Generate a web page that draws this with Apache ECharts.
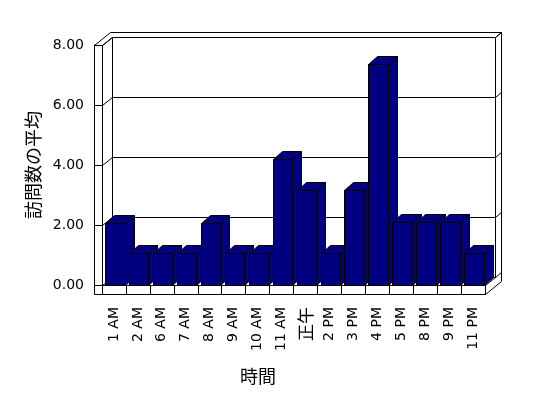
<!DOCTYPE html>
<html lang="ja">
<head>
<meta charset="UTF-8">
<title>訪問数の平均</title>
<script src="https://cdn.jsdelivr.net/npm/echarts@6/dist/echarts.min.js"></script>
</head>
<body style="margin: 0; background: #fff">
<div id="container" style="width: 548px; height: 398px"></div>
<script type="text/javascript">
    var hours = ['1 AM', '2 AM', '6 AM', '7 AM', '8 AM', '9 AM', '10 AM', '11 AM', '正午',
        '2 PM', '3 PM', '4 PM', '5 PM', '8 PM', '9 PM', '11 PM'];
    var visitAvg = [2.08, 1.06, 1.06, 1.06, 2.08, 1.06, 1.06, 4.2, 3.17,
        1.06, 3.17, 7.37, 2.09, 2.09, 2.09, 1.06];
    var yTicks = [0, 2, 4, 6, 8];

    var FONT = "'DejaVu Sans', 'Noto Sans CJK JP', sans-serif";
    var CJK = "'Noto Sans CJK JP', sans-serif";
    // 3D box look (Excel style)
    var WALL = 8;              // side wall thickness
    var DX = 10, DY = 8;       // depth of the floor / inner face of back wall
    var OX = 16, OY = 13;      // outer edge of back wall
    var FLOOR = 9;             // floor slab thickness
    var BAR_DX = 9, BAR_DY = 8;

    function px(v) {
        return Math.round(v) + 0.5;
    }
    function pt(x, y) {
        return [px(x), px(y)];
    }
    function line(a, b) {
        return {type: 'line', shape: {x1: a[0], y1: a[1], x2: b[0], y2: b[1]},
            style: {stroke: '#000', lineWidth: 1}};
    }

    function renderWalls(params, api) {
        var r = params.coordSys;
        var x0 = r.x, x1 = r.x + r.width, yT = r.y, yB = r.y + r.height;
        var items = [];
        // outline of the whole box
        items.push({type: 'polygon', shape: {points: [
            pt(x0 - WALL, yT), pt(x0 - WALL + OX, yT - OY), pt(x1 + OX, yT - OY),
            pt(x1 + OX, yB + FLOOR - OY), pt(x1, yB + FLOOR), pt(x0 - WALL, yB + FLOOR)
        ]}, style: {fill: '#fff', stroke: '#000', lineWidth: 1}});
        // back wall inner face
        items.push({type: 'polygon', shape: {points: [
            pt(x0 + DX, yT - DY), pt(x1 + DX, yT - DY), pt(x1 + DX, yB - DY), pt(x0 + DX, yB - DY)
        ]}, style: {fill: '#fff', stroke: '#000', lineWidth: 1}});
        items.push(line(pt(x1 + DX, yT - DY), pt(x1 + OX, yT - OY)));
        // side wall
        items.push(line(pt(x0, yT), pt(x0, yB + FLOOR)));
        items.push(line(pt(x0 - WALL, yT), pt(x0, yT)));
        items.push(line(pt(x0, yT), pt(x0 + DX, yT - DY)));
        // floor
        items.push(line(pt(x1, yB), pt(x1, yB + FLOOR)));
        items.push(line(pt(x1, yB), pt(x1 + DX, yB - DY)));
        items.push(line(pt(x0, yB + FLOOR), pt(x1, yB + FLOOR)));
        // gridlines on side and back walls
        yTicks.forEach(function (v) {
            var y = api.coord([0, v])[1];
            items.push(line(pt(x0, y), pt(x0 + DX, y - DY)));
            items.push(line(pt(x0 + DX, y - DY), pt(x1 + DX, y - DY)));
            items.push(line(pt(x1 + DX, y - DY), pt(x1 + OX, y - OY)));
        });
        return {type: 'group', children: items};
    }

    function renderBar(params, api) {
        var base = api.coord([api.value(0), 0]);
        var top = api.coord([api.value(0), api.value(1)]);
        var band = api.size([1, 0])[0];
        var xl = px(base[0] - band / 2 + band * 0.13);
        var xr = px(base[0] - band / 2 + band * 0.94);
        var yt = px(top[1]), yb = px(base[1]);
        var style = {fill: '#000080', stroke: '#000', lineWidth: 1};
        return {type: 'group', children: [
            {type: 'polygon', shape: {points: [[xr, yt], [xr + BAR_DX, yt - BAR_DY],
                [xr + BAR_DX, yb - BAR_DY], [xr, yb]]}, style: style},
            {type: 'polygon', shape: {points: [[xl, yt], [xr, yt],
                [xr + BAR_DX, yt - BAR_DY], [xl + BAR_DX, yt - BAR_DY]]}, style: style},
            {type: 'polygon', shape: {points: [[xl, yt], [xr, yt], [xr, yb], [xl, yb]]}, style: style}
        ]};
    }

    var dom = document.getElementById('container');
    var myChart = echarts.init(dom);

    var option = {
        backgroundColor: '#fff',
        animation: false,
        textStyle: {fontFamily: FONT},
        grid: {left: 102, right: 63, top: 45, bottom: 113, outerBoundsMode: 'none'},
        xAxis: {
            type: 'category',
            data: hours,
            z: 5,
            name: '時間',
            nameLocation: 'middle',
            nameGap: 82,
            nameTextStyle: {color: '#000', fontSize: 18, fontFamily: CJK, padding: [0, 71, 0, 0]},
            axisLine: {lineStyle: {color: '#000', width: 1}},
            axisTick: {show: true, length: FLOOR, alignWithLabel: false, lineStyle: {color: '#000'}},
            axisLabel: {
                rotate: 90, margin: 22, color: '#000', fontSize: 14, fontFamily: FONT, interval: 0,
                formatter: function (v) {
                    return /[^\x00-\x7f]/.test(v) ? '{cjk|' + v + '}' : v;
                },
                rich: {cjk: {fontSize: 17, fontFamily: CJK, color: '#000'}}
            }
        },
        yAxis: {
            type: 'value',
            min: 0,
            max: 8,
            interval: 2,
            offset: WALL,
            z: 5,
            name: '訪問数の平均',
            nameLocation: 'middle',
            nameRotate: 90,
            nameGap: 49,
            nameTextStyle: {color: '#000', fontSize: 18, fontFamily: CJK, padding: [8, 0, 0, 0]},
            axisLine: {show: true, lineStyle: {color: '#000', width: 1}},
            axisTick: {show: true, inside: true, length: WALL, lineStyle: {color: '#000'}},
            axisLabel: {margin: 10, color: '#000', fontSize: 14, fontFamily: FONT,
                formatter: function (v) { return v.toFixed(2); }},
            splitLine: {show: false}
        },
        series: [{
            type: 'custom',
            z: 1,
            silent: true,
            renderItem: renderWalls,
            data: [[0, 0]]
        }, {
            type: 'custom',
            z: 3,
            renderItem: renderBar,
            encode: {x: 0, y: 1},
            data: hours.map(function (h, i) { return [i, visitAvg[i]]; })
        }]
    };
    myChart.setOption(option);
</script>
</body>
</html>
